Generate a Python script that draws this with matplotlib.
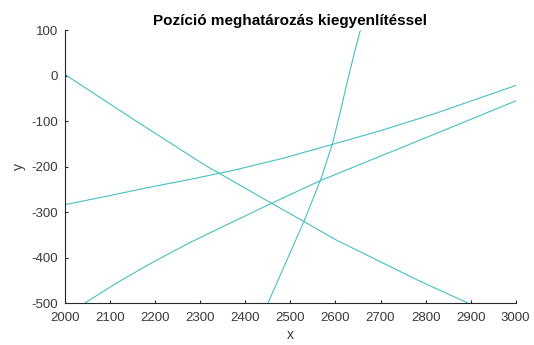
import matplotlib
matplotlib.use("Agg")
import matplotlib.pyplot as plt

plt.rcParams['font.family'] = ['Liberation Sans', 'DejaVu Sans']
plt.rcParams['axes.unicode_minus'] = False

# Sampled points of the four position lines
line_a_x = [2000, 2154, 2310, 2458, 2530, 2600, 2676, 2780, 2895]
line_a_y = [3, -97, -196, -280, -320, -360, -397, -448, -500]

line_b_x = [2000, 2100, 2176, 2280, 2376, 2480, 2595, 2698, 2820, 3000]
line_b_y = [-283, -263, -247, -227, -207, -182, -150, -121, -83, -21]

line_c_x = [2043, 2120, 2198, 2280, 2370, 2467, 2567, 2676, 2820, 3000]
line_c_y = [-500, -452, -408, -365, -322, -276, -230, -186, -128, -55]

line_d_x = [2450, 2490, 2530, 2567, 2593, 2610, 2624, 2640, 2655]
line_d_y = [-500, -410, -320, -229, -150, -82, -22, 43, 100]

x_ticks = [2000, 2100, 2200, 2300, 2400, 2500, 2600, 2700, 2800, 2900, 3000]
y_ticks = [-500, -400, -300, -200, -100, 0, 100]

line_color = '#45c0c2'
axis_color = '#262626'
label_color = '#3a3a3a'

fig = plt.figure(figsize=(5.34, 3.45), dpi=100)
ax = fig.add_axes([0.122, 0.121, 0.8437, 0.7906])

for xs, ys in [(line_a_x, line_a_y), (line_b_x, line_b_y),
               (line_c_x, line_c_y), (line_d_x, line_d_y)]:
    ax.plot(xs, ys, color=line_color, linewidth=0.8)

ax.set_xlim(2000, 3000)
ax.set_ylim(-500, 100)
ax.set_xticks(x_ticks)
ax.set_yticks(y_ticks)

for side in ['top', 'right']:
    ax.spines[side].set_visible(False)
for side in ['left', 'bottom']:
    ax.spines[side].set_color(axis_color)
    ax.spines[side].set_linewidth(0.8)

ax.tick_params(direction='in', length=2.5, width=0.8, color=axis_color,
               labelcolor=label_color, labelsize=9.5)
ax.tick_params(axis='x', pad=6.5)
ax.tick_params(axis='y', pad=5)

ax.set_xlabel('x', fontsize=10, color=label_color, labelpad=3)
ax.set_ylabel('y', fontsize=10, color=label_color, labelpad=4)
ax.set_title('Pozíció meghatározás kiegyenlítéssel', fontsize=11,
             fontweight='bold', color='black', pad=4)

fig.savefig('out.png', dpi=100)
